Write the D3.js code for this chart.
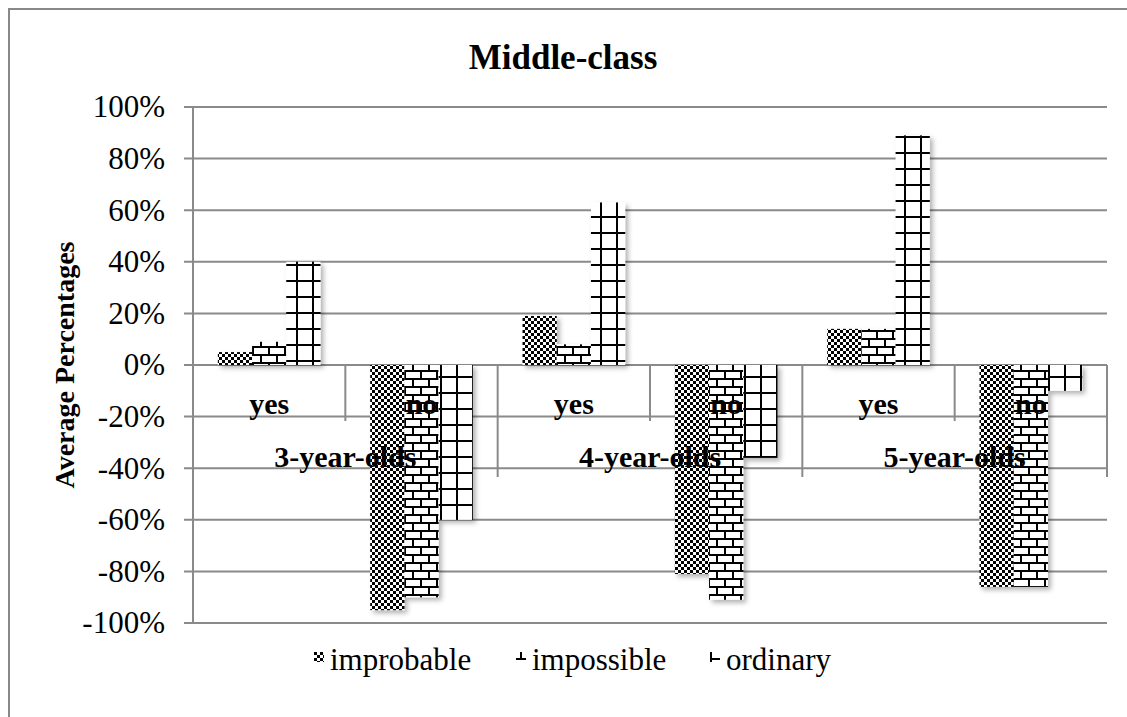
<!DOCTYPE html>
<html><head><meta charset="utf-8">
<script src="https://cdn.jsdelivr.net/npm/d3@7"></script>
<style>
html,body{margin:0;padding:0;background:#fff;}
svg text{font-family:"Liberation Serif","Times New Roman",serif;fill:#000;}
</style></head>
<body><svg id="chart" width="1127" height="717" font-family="Liberation Serif"></svg>
<script>
const title = "Middle-class";
const yLabel = "Average Percentages";
const categories = ["yes","no","yes","no","yes","no"];
const groups = ["3-year-olds","4-year-olds","5-year-olds"];
const seriesNames = ["improbable","impossible","ordinary"];
const improbable = [0.05, -0.95, 0.19, -0.81, 0.14, -0.86];
const impossible = [0.09, -0.90, 0.08, -0.91, 0.14, -0.86];
const ordinary   = [0.40, -0.60, 0.63, -0.36, 0.89, -0.10];
const yTicks = [-1,-0.8,-0.6,-0.4,-0.2,0,0.2,0.4,0.6,0.8,1];

const seriesValues = [improbable, impossible, ordinary];
const SERIF = "'Liberation Serif','Times New Roman',serif";

const svg = d3.select("#chart");
const defs = svg.append("defs");

function makePattern(id, type, ox, oy){
  let p;
  if(type==="checker"){
    p = defs.append("pattern").attr("id",id).attr("patternUnits","userSpaceOnUse").attr("width",6).attr("height",6).attr("x",ox).attr("y",oy);
    p.append("rect").attr("width",6).attr("height",6).attr("fill","#fff");
    p.append("rect").attr("width",3).attr("height",3).attr("fill","#000");
    p.append("rect").attr("x",3).attr("y",3).attr("width",3).attr("height",3).attr("fill","#000");
  } else if(type==="brick"){
    p = defs.append("pattern").attr("id",id).attr("patternUnits","userSpaceOnUse").attr("width",16).attr("height",16).attr("x",ox).attr("y",oy);
    p.append("rect").attr("width",16).attr("height",16).attr("fill","#fff");
    p.append("rect").attr("x",0).attr("y",0).attr("width",16).attr("height",2).attr("fill","#000");
    p.append("rect").attr("x",0).attr("y",8).attr("width",16).attr("height",2).attr("fill","#000");
    p.append("rect").attr("x",0).attr("y",0).attr("width",2).attr("height",8).attr("fill","#000");
    p.append("rect").attr("x",8).attr("y",8).attr("width",2).attr("height",8).attr("fill","#000");
  } else {
    p = defs.append("pattern").attr("id",id).attr("patternUnits","userSpaceOnUse").attr("width",16).attr("height",16).attr("x",ox).attr("y",oy);
    p.append("rect").attr("width",16).attr("height",16).attr("fill","#fff");
    p.append("rect").attr("x",0).attr("y",0).attr("width",16).attr("height",2).attr("fill","#000");
    p.append("rect").attr("x",0).attr("y",0).attr("width",2).attr("height",16).attr("fill","#000");
  }
}
makePattern("pBar0","checker",0,0);
makePattern("pBar1","brick",4,2);
makePattern("pBar2","grid",8,8);
makePattern("pLeg0","checker",0,0);
makePattern("pLeg1","brick",-12,-4);
makePattern("pLeg2","grid",0,-12);

const f = defs.append("filter").attr("id","shadow").attr("x","-20%").attr("y","-20%").attr("width","150%").attr("height","150%");
f.append("feDropShadow").attr("dx",3).attr("dy",3).attr("stdDeviation",2.5).attr("flood-color","#000").attr("flood-opacity",0.3);

svg.append("rect").attr("x",9).attr("y",9).attr("width",1130).attr("height",720)
  .attr("fill","#fff").attr("stroke","#888").attr("stroke-width",2);

const pl = 193, pr = 1107, pt = 107, pb = 623;
const x0 = d3.scaleBand().domain(d3.range(categories.length)).range([pl,pr]).padding(0);
const x1 = d3.scaleBand().domain(seriesNames).range([0,x0.bandwidth()]).paddingInner(0).paddingOuter(0.727);
const y = d3.scaleLinear().domain([-1,1]).range([pb,pt]);
const gridColor = "#8a8a8a";

svg.append("g").selectAll("line").data(yTicks).join("line")
  .attr("x1",pl-9).attr("x2",pr).attr("y1",d=>y(d)).attr("y2",d=>y(d))
  .attr("stroke",gridColor).attr("stroke-width",2);

const yAxis = d3.axisLeft(y).tickValues(yTicks).tickFormat(d=>Math.round(d*100)+"%").tickSize(0).tickPadding(28);
const gy = svg.append("g").attr("transform",`translate(${pl},0)`).call(yAxis);
gy.attr("font-family","Liberation Serif").attr("font-size",31);
gy.select(".domain").remove();
gy.selectAll("text").style("font-family",SERIF).style("font-size","31px").attr("fill","#000");
svg.append("line").attr("x1",pl).attr("x2",pl).attr("y1",pt).attr("y2",pb).attr("stroke",gridColor).attr("stroke-width",2);

const yZero = y(0);
const boundaries = d3.range(1, categories.length+1);
svg.append("g").selectAll("line").data(boundaries).join("line")
  .attr("x1",d=> d===categories.length ? pr : x0(d))
  .attr("x2",d=> d===categories.length ? pr : x0(d))
  .attr("y1",yZero)
  .attr("y2",d=> d%2===0 ? yZero+112 : yZero+56)
  .attr("stroke",gridColor).attr("stroke-width",2);

const gb = svg.append("g").attr("filter","url(#shadow)");
seriesValues.forEach((vals,si)=>{
  gb.append("g").selectAll("rect").data(vals).join("rect")
    .attr("x",(d,i)=>x0(i)+x1(seriesNames[si]))
    .attr("width",x1.bandwidth())
    .attr("y",d=>y(Math.max(0,d)))
    .attr("height",d=>Math.abs(y(d)-y(0)))
    .attr("fill",`url(#pBar${si})`);
});

svg.append("g").selectAll("text").data(categories).join("text")
  .attr("x",(d,i)=>x0(i)+x0.bandwidth()/2).attr("y",yZero+49)
  .attr("text-anchor","middle").style("font-family",SERIF).style("font-size","30px").style("font-weight","bold").text(d=>d);
svg.append("g").selectAll("text").data(groups).join("text")
  .attr("x",(d,i)=>x0(i*2)+x0.bandwidth()).attr("y",yZero+102)
  .attr("text-anchor","middle").style("font-family",SERIF).style("font-size","30px").style("font-weight","bold").text(d=>d);

svg.append("text").attr("x",563).attr("y",69).attr("text-anchor","middle")
  .style("font-family",SERIF).style("font-size","35px").style("font-weight","bold").text(title);

svg.append("text").attr("transform",`translate(74,${(pt+pb)/2}) rotate(-90)`)
  .attr("text-anchor","middle").style("font-family",SERIF).style("font-size","28px").style("font-weight","bold").text(yLabel);

const lg = svg.append("g");
const items = lg.selectAll("g").data(seriesNames).join("g");
items.append("rect").attr("width",10).attr("height",10).attr("y",-18)
  .attr("fill",(d,i)=>`url(#pLeg${i})`);
items.append("text").attr("x",16).attr("y",0).style("font-family",SERIF).style("font-size","31px").text(d=>d);
let xs = 0; const pos=[];
items.each(function(d,i){ const w=this.getBBox().width; pos.push(xs); xs+=w+44; });
const total = xs-44;
const startX = 573 - total/2;
items.attr("transform",(d,i)=>`translate(${Math.round(startX+pos[i])},670)`);
</script></body></html>
